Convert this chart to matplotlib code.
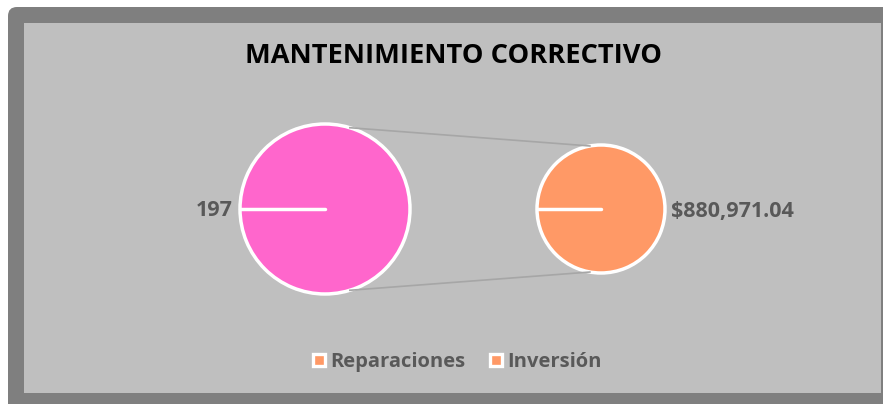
import numpy as np
import matplotlib
import matplotlib.pyplot as plt
from matplotlib.patches import FancyBboxPatch, Rectangle
from matplotlib.lines import Line2D

matplotlib.use('agg')

# data
labels = ["Reparaciones", "Inversión"]
values = [197, 880971.04]
value_text = ["197", "$880,971.04"]
colors = ["#ff66cc", "#ff9966"]
title = "MANTENIMIENTO CORRECTIVO"

FONT = "Open Sans"
GREY_TXT = "#595959"

W, H = 883, 404
fig = plt.figure(figsize=(W / 100, H / 100), dpi=100)
ax = fig.add_axes([0, 0, 1, 1])

# chart frame
ax.add_patch(FancyBboxPatch((8, 7), W + 20, H + 20, boxstyle="round,pad=0,rounding_size=9",
                            facecolor="#7f7f7f", edgecolor="none", zorder=0))
ax.add_patch(Rectangle((24, 23), 857, 370, facecolor="#bfbfbf", edgecolor="none", zorder=1))

ax.text(453.5, 56, title, ha='center', va='center', fontsize=19.6, fontweight='bold',
        family=FONT, color='black', zorder=5)

# two pies (pie of pie), each a single full slice
centers = [(325, 209), (601, 209)]
radii = [85, 64]
for (cx, cy), r, v, c in zip(centers, radii, values, colors):
    ax.pie([v], colors=[c], center=(cx, cy), radius=r, startangle=180,
           wedgeprops=dict(edgecolor='white', linewidth=2.5), frame=True)
    ax.plot([cx - r, cx], [cy, cy], color='white', lw=2.5, solid_capstyle='round', zorder=4)

ax.set_xlim(0, W)
ax.set_ylim(H, 0)
ax.set_aspect('equal')
ax.axis('off')

# connector lines
(c1x, c1y), (c2x, c2y) = centers
a1 = np.deg2rad(73)
a2 = np.deg2rad(100)
for s in (-1, 1):
    x1 = c1x + radii[0] * np.cos(a1)
    y1 = c1y + s * radii[0] * np.sin(a1)
    x2 = c2x + radii[1] * np.cos(a2)
    y2 = c2y + s * radii[1] * np.sin(a2)
    ax.plot([x1, x2], [y1, y2], color="#a6a6a6", lw=1.2, zorder=2)

# value labels
ax.text(centers[0][0] - radii[0] - 7, 211, value_text[0], ha='right', va='center',
        fontsize=15.5, fontweight='bold', family=FONT, color=GREY_TXT, zorder=5)
ax.text(centers[1][0] + radii[1] + 6, 211, value_text[1], ha='left', va='center',
        fontsize=15.5, fontweight='bold', family=FONT, color=GREY_TXT, zorder=5)

# legend (both markers orange, as in the original)
handles = [Line2D([], [], marker='s', ls='none', markersize=8.5, markerfacecolor=colors[1],
                  markeredgecolor='white', markeredgewidth=2.4) for _ in labels]
leg = fig.legend(handles, labels, loc='center', bbox_to_anchor=(457 / W, 1 - 362 / H),
                 ncol=2, frameon=False, handletextpad=0.2, columnspacing=1.2,
                 handlelength=0.7, borderpad=0, borderaxespad=0,
                 prop=dict(family=FONT, weight='bold', size=14.5))
for t in leg.get_texts():
    t.set_color(GREY_TXT)

fig.savefig("out.png", dpi=100)
